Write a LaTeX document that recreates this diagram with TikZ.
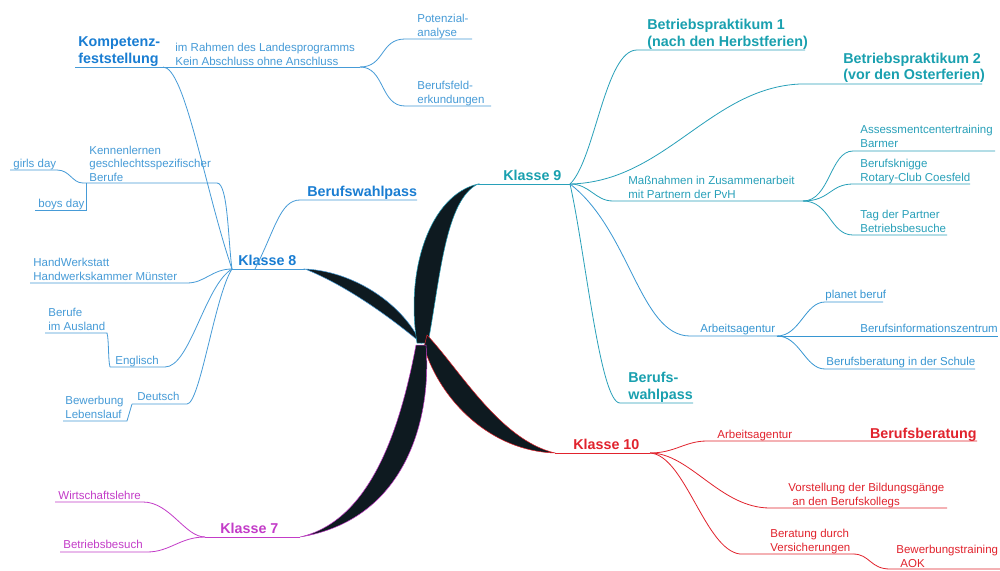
\documentclass[tikz,border=0pt]{standalone}
\usepackage{fontspec}
\setmainfont{Liberation Sans}
\definecolor{ceight}{RGB}{70,155,215}
\definecolor{ceighth}{RGB}{25,125,210}
\definecolor{cnine}{RGB}{40,160,185}
\definecolor{cnineh}{RGB}{25,160,175}
\definecolor{cnineb}{RGB}{55,150,210}
\definecolor{cten}{RGB}{225,35,45}
\definecolor{cseven}{RGB}{195,60,200}
\definecolor{blobc}{RGB}{14,26,32}
\tikzset{
  sm/.style={font=\fontsize{11.5}{14}\selectfont, inner sep=0pt, anchor=base west, align=left},
  hd/.style={font=\bfseries\fontsize{14.3}{16.5}\selectfont, inner sep=0pt, anchor=base west, align=left},
  ln/.style={line width=0.8pt},
  blob/.style={fill=blobc, line width=0.5pt},
}
\begin{document}
\begin{tikzpicture}[x=1pt,y=-1pt]
\useasboundingbox (0,0) rectangle (1000,570);
\fill[white] (0,0) rectangle (1000,570);

% ---------- hubs ----------
\coordinate (C) at (421,343);
\coordinate (h8) at (232,269);
\coordinate (k8e) at (305,269);
\coordinate (h9) at (570,184);
\coordinate (k9s) at (478,184);
\coordinate (h10) at (650,453);
\coordinate (k10s) at (555,453);
\coordinate (h7) at (205,537);
\coordinate (k7e) at (300,537);

% ---------- central black branches ----------
\filldraw[blob, draw=ceight] (k8e) .. controls (350,271) and (400,300) .. (C) .. controls (396,322) and (350,287) .. (k8e) -- cycle;
\filldraw[blob, draw=cnine] (417,343) .. controls (405,270) and (430,195) .. (k9s) .. controls (445,200) and (440,280) .. (428,343) -- cycle;
\filldraw[blob, draw=cten] (427,335) .. controls (460,370) and (500,440) .. (k10s) .. controls (490,451) and (440,400) .. (424,347) -- cycle;
\filldraw[blob, draw=cseven] (426,345) .. controls (432,420) and (405,520) .. (k7e) .. controls (370,521) and (400,430) .. (416,345) -- cycle;

% ---------- Klasse 8 ----------
\begin{scope}[draw=ceight, ln]
\draw (h8) -- (k8e);
\node[hd, text=ceighth] (t8) at (238,265) {Klasse 8};
% Kompetenzfeststellung
\coordinate (kA) at (75,67); \coordinate (kC) at (163,67); \coordinate (kF) at (360,67);
\draw (h8) .. controls (205,190) and (185,67) .. (kC);
\draw (kA) -- (kF);
\node[hd, text=ceighth] (tkomp) at (78,63) {Kompetenz-\\feststellung};
\node[sm, text=ceight] (trahmen) at (175,65) {im Rahmen des Landesprogramms\\Kein Abschluss ohne Anschluss};
\coordinate (pA) at (405,39); \coordinate (pB) at (472,39);
\draw (kF) .. controls (385,67) and (380,39) .. (pA) -- (pB);
\node[sm, text=ceight] (tpot) at (417,36) {Potenzial-\\analyse};
\coordinate (bA) at (405,106); \coordinate (bB) at (491,106);
\draw (kF) .. controls (385,67) and (380,106) .. (bA) -- (bB);
\node[sm, text=ceight] (tbfe) at (417,103) {Berufsfeld-\\erkundungen};
% Kennenlernen
\coordinate (kkA) at (83,183); \coordinate (kkB) at (217,183);
\draw (kkA) -- (kkB) .. controls (228,183) and (228,240) .. (h8);
\node[sm, text=ceight, font=\fontsize{11.5}{13.5}\selectfont] (tkenn) at (89,181) {Kennenlernen\\geschlechtsspezifischer\\Berufe};
\coordinate (gA) at (10,170); \coordinate (gB) at (57,170);
\draw (gA) -- (gB) .. controls (70,170) and (72,183) .. (kkA);
\node[sm, text=ceight] (tgirls) at (13,167) {girls day};
\coordinate (byA) at (86,183); \coordinate (byB) at (86,210); \coordinate (byC) at (35,210);
\draw (byA) -- (byB) -- (byC);
\node[sm, text=ceight] (tboys) at (38,207) {boys day};
% HandWerkstatt
\coordinate (hwA) at (30,283); \coordinate (hwB) at (187,283);
\draw (hwA) -- (hwB) .. controls (205,283) and (212,269) .. (h8);
\node[sm, text=ceight] (thw) at (33,280) {HandWerkstatt\\Handwerkskammer Münster};
% Englisch
\coordinate (enA) at (110,367); \coordinate (enB) at (165,367);
\draw (enA) -- (enB) .. controls (190,367) and (205,285) .. (h8);
\node[sm, text=ceight] (teng) at (115,364) {Englisch};
\coordinate (auA) at (45,333); \coordinate (auB) at (107,333);
\draw (auA) -- (auB) .. controls (109,340) and (108,360) .. (enA);
\node[sm, text=ceight] (taus) at (48,330) {Berufe\\im Ausland};
% Deutsch
\coordinate (deA) at (132,404); \coordinate (deB) at (187,404);
\draw (deA) -- (deB) .. controls (200,404) and (215,295) .. (h8);
\node[sm, text=ceight] (tdeu) at (137,400) {Deutsch};
\coordinate (lbA) at (63,421); \coordinate (lbB) at (127,421);
\draw (lbA) -- (lbB) -- (deA);
\node[sm, text=ceight] (tbew) at (65,418) {Bewerbung\\Lebenslauf};
% Berufswahlpass
\coordinate (bwS) at (255,269); \coordinate (bwA) at (300,200); \coordinate (bwB) at (417,200);
\draw (bwS) .. controls (275,230) and (280,200) .. (bwA) -- (bwB);
\node[hd, text=ceighth] (tbw8) at (307,196) {Berufswahlpass};
\end{scope}

% ---------- Klasse 9 ----------
\begin{scope}[draw=cnine, ln]
\draw (k9s) -- (h9);
\node[hd, text=cnineh] (t9) at (503,180) {Klasse 9};
\coordinate (p1A) at (637,50); \coordinate (p1B) at (805,50);
\draw (h9) .. controls (595,160) and (605,50) .. (p1A) -- (p1B);
\node[hd, text=cnineh] (tbp1) at (647,46) {Betriebspraktikum 1\\(nach den Herbstferien)};
\coordinate (p2A) at (800,84); \coordinate (p2B) at (982,84);
\draw (h9) .. controls (665,182) and (710,88) .. (p2A) -- (p2B);
\node[hd, text=cnineh] (tbp2) at (843,79.5) {Betriebspraktikum 2\\(vor den Osterferien)};
\coordinate (mA) at (613,201); \coordinate (mF) at (803,201);
\draw (h9) .. controls (590,184) and (595,201) .. (mA) -- (mF);
\node[sm, text=cnine] (tmass) at (628,198) {Maßnahmen in Zusammenarbeit\\mit Partnern der PvH};
\coordinate (asA) at (853,151); \coordinate (asB) at (995,151);
\draw (mF) .. controls (830,201) and (830,151) .. (asA) -- (asB);
\node[sm, text=cnine] (tass) at (860,147.5) {Assessmentcentertraining\\Barmer};
\coordinate (knA) at (853,184); \coordinate (knB) at (970,184);
\draw (mF) .. controls (830,201) and (830,184) .. (knA) -- (knB);
\node[sm, text=cnine] (tkn) at (860,181) {Berufsknigge\\Rotary-Club Coesfeld};
\coordinate (tpA) at (853,235); \coordinate (tpB) at (947,235);
\draw (mF) .. controls (830,201) and (830,235) .. (tpA) -- (tpB);
\node[sm, text=cnine] (ttag) at (860,232) {Tag der Partner\\Betriebsbesuche};
\coordinate (bwpA) at (620,403); \coordinate (bwpB) at (693,403);
\draw (h9) .. controls (585,250) and (600,403) .. (bwpA) -- (bwpB);
\node[hd, text=cnineh] (tbw9) at (628,399) {Berufs-\\wahlpass};
\end{scope}
\begin{scope}[draw=cnineb, ln]
\coordinate (aaA) at (690,336); \coordinate (aaF) at (777,336);
\draw (h9) .. controls (630,230) and (640,336) .. (aaA) -- (aaF);
\node[sm, text=cnineb] (taa9) at (700,332) {Arbeitsagentur};
\coordinate (plA) at (825,302); \coordinate (plB) at (883,302);
\draw (aaF) .. controls (800,336) and (805,302) .. (plA) -- (plB);
\node[sm, text=cnineb] (tpl) at (825,298) {planet beruf};
\coordinate (biz) at (998,336);
\draw (aaF) -- (biz);
\node[sm, text=cnineb] (tbiz) at (860,332) {Berufsinformationszentrum};
\coordinate (bsA) at (825,369); \coordinate (bsB) at (975,369);
\draw (aaF) .. controls (800,336) and (805,369) .. (bsA) -- (bsB);
\node[sm, text=cnineb] (tbs) at (826,365) {Berufsberatung in der Schule};
\end{scope}

% ---------- Klasse 10 ----------
\begin{scope}[draw=cten, ln]
\draw (k10s) -- (h10);
\node[hd, text=cten] (t10) at (573,449) {Klasse 10};
\coordinate (a10A) at (707,441); \coordinate (a10B) at (977,441);
\draw (h10) .. controls (675,453) and (685,441) .. (a10A) -- (a10B);
\node[sm, text=cten] (taa10) at (717,438) {Arbeitsagentur};
\node[hd, text=cten, anchor=base east] (tbb10) at (977,438) {Berufsberatung};
\coordinate (voA) at (770,508); \coordinate (voB) at (947,508);
\draw (h10) .. controls (690,453) and (720,508) .. (voA) -- (voB);
\node[sm, text=cten] (tvor) at (788,505) {Vorstellung der Bildungsgänge\\\hspace*{4pt}an den Berufskollegs};
\coordinate (veA) at (740,554); \coordinate (veB) at (853,554);
\draw (h10) .. controls (685,455) and (705,550) .. (veA) -- (veB);
\node[sm, text=cten] (tver) at (770,551) {Beratung durch\\Versicherungen};
\coordinate (aoA) at (890,569); \coordinate (aoB) at (1000,569);
\draw (veB) .. controls (870,554) and (870,569) .. (aoA) -- (aoB);
\node[sm, text=cten] (taok) at (896,567) {Bewerbungstraining\\\hspace*{4pt}AOK};
\end{scope}

% ---------- Klasse 7 ----------
\begin{scope}[draw=cseven, ln]
\draw (h7) -- (k7e);
\node[hd, text=cseven] (t7) at (220,533) {Klasse 7};
\coordinate (wA) at (55,502); \coordinate (wB) at (143,502);
\draw (h7) .. controls (185,537) and (170,502) .. (wB) -- (wA);
\node[sm, text=cseven] (twl) at (58,499) {Wirtschaftslehre};
\coordinate (beA) at (60,552); \coordinate (beB) at (147,552);
\draw (h7) .. controls (180,537) and (170,552) .. (beB) -- (beA);
\node[sm, text=cseven] (tbb7) at (63,548) {Betriebsbesuch};
\end{scope}
\end{tikzpicture}
\end{document}
